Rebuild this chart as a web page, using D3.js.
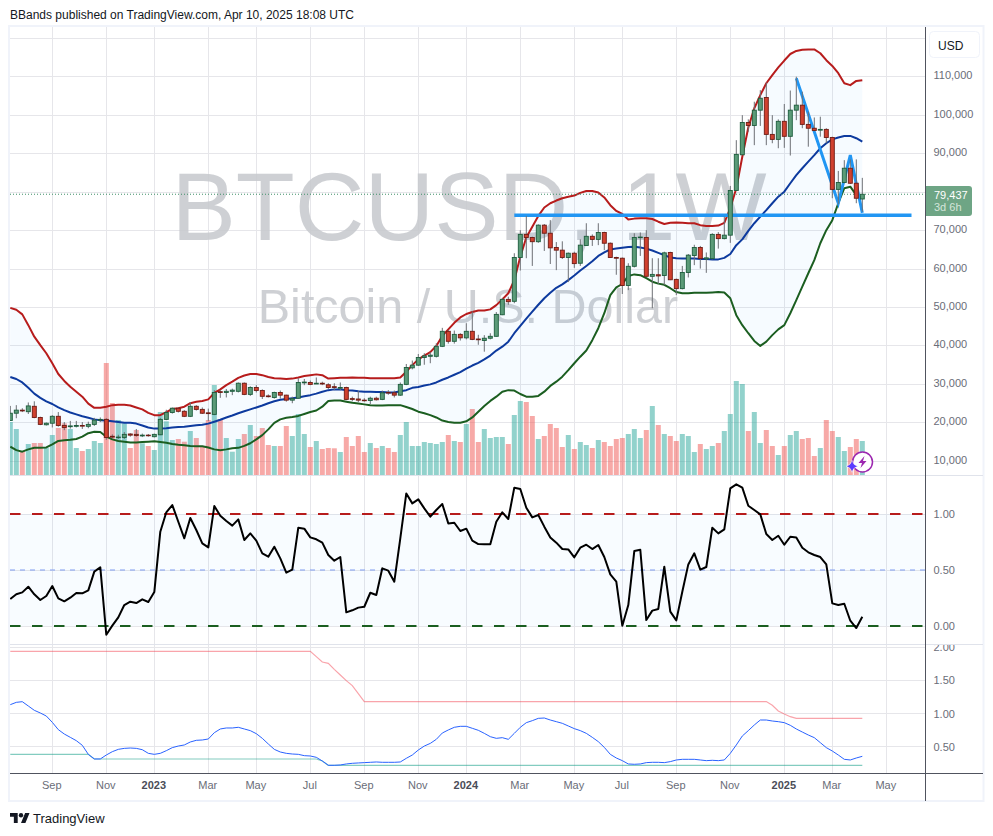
<!DOCTYPE html>
<html><head><meta charset="utf-8">
<script src="https://cdn.jsdelivr.net/npm/d3@7"></script>
<style>html,body{margin:0;padding:0;background:#fff}svg{display:block}text{font-family:"Liberation Sans",Arial,sans-serif}</style>
</head><body><svg id="c" width="993" height="836"></svg>
<script>
// weekly candles, thousands of USD
const open=[20.6,22.5,23.3,22.9,24.3,21.4,19.5,19.9,21.7,19.3,
19.0,19.1,19.3,19.1,19.6,20.7,20.9,16.5,16.2,16.2,
17.1,17.0,16.6,16.8,16.4,16.9,20.9,22.7,23.8,23.0,
21.7,24.3,23.5,22.6,22.2,28.1,27.9,28.2,28.2,30.3,
27.4,29.2,28.4,27.0,26.6,27.9,27.2,25.9,26.4,30.4,
30.5,30.1,30.3,29.9,29.4,29.0,29.2,26.3,26.2,25.9,
25.8,26.4,26.1,27.9,27.8,27.2,30.0,34.3,35.0,37.0,
37.3,37.3,39.9,43.8,41.2,43.0,42.1,43.8,41.8,41.4,
42.0,42.5,48.1,52.1,51.6,63.0,69.0,68.2,67.1,71.4,
69.3,65.6,64.9,63.0,64.1,61.5,66.1,68.5,67.7,69.5,
66.7,63.0,62.8,55.7,60.7,68.2,68.2,58.1,58.5,58.3,
64.3,57.3,54.9,59.1,63.5,65.6,62.6,62.7,69.0,67.9,
68.8,80.4,89.7,98.1,97.3,101.3,104.6,95.0,93.7,98.4,
94.5,101.3,102.6,97.6,96.6,96.1,96.3,94.2,80.7,82.5,
86.2,82.3,78.2];
const close=[22.5,23.3,23.1,24.4,21.4,19.6,19.9,21.7,19.3,18.8,
19.2,19.3,19.2,19.6,20.7,20.9,16.2,16.3,16.3,17.0,
16.8,16.7,16.8,16.7,17.0,20.9,22.7,23.8,23.0,21.7,
24.3,23.5,22.5,22.4,27.9,27.9,28.2,28.5,30.3,27.4,
29.2,28.4,26.9,26.8,27.9,27.2,25.9,26.3,30.5,30.6,
30.0,30.3,30.1,29.2,29.2,29.2,26.1,26.1,25.9,25.8,
26.4,26.0,27.8,27.8,27.2,30.0,34.4,35.0,37.0,37.4,
37.6,39.9,43.8,41.2,43.0,42.1,43.8,41.7,41.6,42.0,
42.5,48.2,52.1,51.5,63.0,69.0,68.2,67.1,71.4,69.3,
65.5,64.9,63.0,64.1,61.4,66.2,68.5,67.7,69.5,66.7,
63.0,62.8,55.7,60.7,68.2,68.3,58.1,58.6,58.2,64.2,
57.2,54.9,59.1,63.6,65.6,62.7,62.9,69.0,67.9,68.8,
80.4,89.8,98.1,97.3,101.3,104.4,95.0,93.7,98.4,94.5,
101.3,102.6,97.6,96.6,96.0,96.3,94.2,80.7,82.5,86.2,
82.3,78.4,79.437];
const high=[24.4,24.6,23.8,25.3,25.6,21.6,20.1,22.0,22.8,20.2,
20.5,20.5,20.2,20.3,21.3,21.4,21.2,17.0,16.9,17.6,
17.3,18.4,17.2,17.1,17.2,21.3,23.4,24.0,24.0,23.3,
25.4,24.6,24.0,23.7,28.5,28.5,28.8,28.9,30.5,30.5,
29.5,29.8,28.7,27.4,28.1,28.4,27.3,26.8,31.6,31.4,
31.0,31.8,30.7,30.3,30.3,30.5,29.4,26.8,28.3,26.4,
26.8,26.8,28.4,28.5,28.4,30.5,35.3,36.2,37.9,38.1,
38.4,40.7,44.7,44.1,44.0,43.3,45.9,49.0,42.9,42.8,
43.3,48.8,52.5,52.8,64.1,70.1,73.8,68.4,71.6,71.7,
72.7,67.0,67.2,64.3,64.5,67.7,71.9,69.0,71.9,69.7,
66.9,63.2,63.0,61.5,69.3,69.5,70.1,62.8,62.8,64.5,
64.5,57.5,60.8,63.9,66.3,66.0,64.3,69.3,69.6,73.6,
81.6,93.5,100.0,98.9,103.5,106.5,108.5,100.0,98.9,102.9,
106.4,110.0,106.1,100.9,99.4,99.6,96.6,94.4,85.5,88.3,
88.5,88.5,83.7];
const low=[20.6,21.2,22.8,22.3,21.2,19.4,19.3,18.8,19.0,18.1,
18.5,18.8,18.4,18.6,19.2,20.2,15.6,15.9,15.8,15.8,
16.4,16.4,16.3,16.4,16.2,16.8,20.7,22.4,22.7,21.5,
21.5,23.2,22.3,20.5,22.0,26.5,26.6,27.2,27.9,27.2,
27.0,27.9,26.2,26.6,26.3,26.3,25.5,25.1,26.3,29.8,
29.8,30.1,29.8,28.8,28.5,28.5,25.9,25.6,25.4,25.5,
24.9,25.8,25.9,27.3,26.6,27.0,29.8,33.9,34.8,35.1,
35.5,37.0,39.7,40.6,40.6,41.4,41.7,41.5,40.3,38.5,
41.7,42.4,48.0,50.7,51.1,59.6,62.8,60.8,66.8,64.7,
61.3,59.7,62.6,56.6,60.3,60.8,66.1,66.0,66.2,64.9,
62.9,58.5,53.5,54.5,60.4,63.4,58.0,49.8,56.1,55.8,
57.1,53.2,54.7,57.8,61.0,60.1,59.0,62.5,65.3,67.7,
66.8,80.3,89.6,95.7,92.2,97.2,92.2,92.7,91.4,91.5,
89.5,98.7,96.6,91.8,95.8,94.4,92.7,78.4,76.8,82.3,
82.1,77.1,74.9];
const volume=[53,46,24,31,32,32,27.3,40,47,51.7,
46,27,24,26,34,32,112,72,55,51.7,
27,45,31.7,29,25,63,53.7,35,36,33.3,
44,37,29,55,90,56,37,23.3,36,41,
50,39,47,30,29,29,49,39,61,41,
28,34,26,27,26.7,23,38,29,39,23,
32,27,29,27,23,40,53,29,29,33,
32,31,33,40,34,33,51,66,33,46,
37,38,38,31,60,74,73,59,36,39,
51,47,28,40,26,33,30,27,35,33,
29,36,37,41,46,37,45,69,50,41,
39,34,41,39,23,31,26,29,32,44,
61,94,91,44,63,32,45,29,20,29,
40,44,36,37,19,27,55,44,38,24,
28,36,34];
const bbUpper=[49.9,49.4,48.2,45.4,42.4,40.2,38.1,35.5,32.7,30.9,
29.4,28.1,26.8,25.0,23.9,23.9,24.2,24.6,24.7,24.7,
24.5,24.0,23.5,22.6,22.0,22.0,22.8,23.6,23.8,24.2,
25.1,25.5,25.7,26.1,27.8,28.7,29.8,30.7,31.7,32.3,
32.7,32.7,32.4,31.9,31.6,31.5,31.4,31.5,31.8,32.2,
32.4,32.6,32.4,31.5,31.6,31.7,31.7,31.8,31.7,31.7,
31.6,31.6,31.6,31.6,31.6,31.8,33.3,35.0,36.5,37.5,
38.4,40.0,42.6,44.3,46.0,47.4,48.3,48.8,49.2,49.2,
49.5,50.6,52.1,53.7,57.1,63.2,68.2,71.0,73.8,76.0,
77.1,77.8,78.4,78.8,79.1,79.8,80.3,80.3,79.9,78.6,
76.6,75.1,74.3,72.9,73.1,73.2,73.2,73.0,72.3,71.7,
72.0,72.1,72.0,71.9,71.9,71.4,71.2,71.2,71.3,72.0,
75.8,81.0,89.2,96.8,101.8,105.2,108.3,110.4,112.4,114.2,
115.9,116.7,117.0,117.1,117.1,116.1,114.3,112.8,110.9,108.3,
107.8,108.9,109.1];
const bbMiddle=[31.9,31.4,30.5,29.1,27.6,26.5,25.6,24.9,24.0,23.3,
22.7,22.2,21.7,21.3,20.9,20.7,20.6,20.4,20.2,20.0,
20.0,19.8,19.3,18.8,18.5,18.5,18.6,18.8,18.9,19.0,
19.2,19.4,19.5,19.8,20.3,20.8,21.4,21.9,22.5,23.0,
23.5,24.0,24.5,25.1,25.6,26.0,26.2,26.4,26.6,26.9,
27.2,27.6,28.1,28.5,28.7,28.7,28.5,28.4,28.2,28.1,
28.1,28.0,28.0,27.9,27.9,28.2,28.5,29.1,29.3,29.7,
30.0,30.5,31.2,31.8,32.5,33.2,34.1,34.9,35.6,36.5,
37.5,38.8,39.8,41.1,43.3,45.2,47.1,48.9,50.7,52.4,
53.8,55.1,56.0,57.1,58.3,59.6,60.8,62.0,63.4,64.3,
65.1,65.3,65.5,65.7,65.8,65.6,65.3,64.8,64.2,63.6,
63.0,62.8,62.7,62.7,62.7,62.6,62.6,62.5,62.5,62.9,
63.9,66.2,67.7,69.9,71.9,73.6,75.3,77.1,78.8,80.1,
82.3,84.4,86.2,87.9,89.6,91.4,92.7,93.7,94.2,94.6,
94.6,94.0,93.1];
const bbLower=[13.8,12.9,12.5,13.1,13.5,13.5,13.6,14.4,15.3,15.5,
15.6,15.8,16.4,17.3,17.7,17.6,16.4,15.7,15.3,15.1,
14.9,14.9,15.0,15.1,15.2,15.0,14.8,14.5,14.3,14.2,
14.0,13.9,13.9,13.6,13.1,12.9,13.1,13.4,13.5,14.0,
14.7,15.7,16.8,18.3,20.0,20.9,21.3,21.5,21.8,22.3,
22.8,23.2,24.2,25.7,25.8,25.8,25.5,25.2,25.0,24.8,
24.6,24.5,24.5,24.6,24.6,24.6,24.1,23.6,22.9,22.5,
22.0,21.4,20.6,20.2,20.0,20.0,20.4,21.4,22.9,24.4,
25.7,26.8,28.1,28.5,28.4,27.5,26.8,26.8,27.0,28.1,
29.6,30.7,32.0,33.7,35.5,37.2,38.8,41.5,44.6,48.5,
53.2,55.2,56.1,58.2,58.6,58.4,57.6,56.7,56.2,55.9,
55.0,54.0,53.7,53.7,53.8,53.8,53.8,53.9,54.0,53.9,
52.4,48.0,45.4,43.3,41.3,40.0,41.1,42.8,44.3,45.4,
48.5,51.9,55.4,58.9,62.3,66.7,70.1,72.7,77.1,81.0,
81.4,79.2,78.4];
const percentB=[.241,.283,.30,.351,.283,.232,.268,.357,.247,.22,
.253,.295,.292,.318,.485,.524,-.078,.003,.077,.187,
.217,.205,.238,.214,.303,.842,1.015,1.08,.931,.783,
.964,.857,.738,.702,1.071,.985,.937,.896,.952,.768,
.827,.762,.649,.619,.708,.604,.476,.503,.878,.869,
.791,.774,.744,.634,.583,.616,.122,.14,.164,.172,
.297,.277,.515,.494,.396,.783,1.184,1.095,1.131,1.05,
.976,1.036,1.089,.916,.922,.848,.869,.762,.732,.729,
.729,.931,1.015,.955,1.235,1.223,1.056,.97,.991,.887,
.791,.744,.687,.684,.613,.699,.726,.687,.723,.616,
.461,.396,.003,.187,.669,.681,.053,.137,.152,.53,
.128,.05,.306,.55,.649,.503,.527,.878,.827,.863,
1.229,1.265,1.235,1.074,1.036,.997,.821,.768,.806,.726,
.797,.791,.699,.658,.634,.616,.55,.202,.187,.199,
.047,-.018,.083];
const bbw=[1.133,1.168,1.178,1.113,1.048,1.008,.962,.867,.757,.691,
.641,.591,.521,.385,.315,.315,.375,.425,.46,.475,
.48,.475,.455,.40,.385,.40,.44,.486,.51,.526,
.571,.596,.601,.616,.711,.767,.782,.782,.792,.767,
.742,.696,.626,.541,.46,.42,.40,.39,.385,.365,
.36,.34,.285,.22,.22,.225,.24,.25,.255,.26,
.265,.27,.265,.265,.265,.27,.325,.375,.45,.51,
.55,.611,.706,.752,.792,.807,.807,.777,.747,.701,
.651,.626,.636,.611,.701,.792,.862,.892,.927,.932,
.902,.877,.852,.812,.772,.742,.701,.641,.576,.49,
.385,.33,.29,.24,.235,.24,.26,.265,.265,.26,
.275,.30,.31,.31,.31,.30,.29,.295,.29,.30,
.40,.526,.661,.742,.827,.902,.902,.887,.877,.862,
.822,.767,.721,.676,.636,.561,.486,.435,.375,.31,
.30,.33,.355];
const bbwHighWeeks=[0,50,51,52,53,54,55,56,57,58,59,126,127,128,129,130,131,142];
const bbwHigh=[1.937,1.937,1.856,1.776,1.756,1.665,1.58,1.495,1.42,1.30,1.18,1.18,1.123,1.037,.993,.952,.927,.927];
const bbwLowWeeks=[0,13,14,50,51,52,53,142];
const bbwLow=[.385,.385,.315,.315,.315,.285,.22,.22];
const levelLineWeeks=[84,150.2], levelLine=[73.96,73.96];
const zigzagWeeks=[131,138,140,142], zigzag=[109.6,77.1,89.6,74.6];
const priceTicks=[10,20,30,40,50,60,70,80,90,100,110,120];
const priceLabels=[10,20,30,40,50,60,70,90,100,110];
const pctTicks=[0,.5,1];
const bbwTicks=[.5,1,1.5,2];
const timeWeeks=[7,16,24,33,41,50,59,68,76,85,94,102,111,120,129,137,146];
const timeLabels=["Sep","Nov","2023","Mar","May","Jul","Sep","Nov","2024","Mar","May","Jul","Sep","Nov","2025","Mar","May"];
const weeks=d3.range(close.length);

const svg=d3.select("#c");
const paneL=10,paneR=925.5,axisR=983,top1=27,bot1=475,bot2=645,bot3=773.5,frameB=800.5;
const x=d3.scaleLinear().domain([0,142]).range([10.3,862.3]);
const y=d3.scaleLinear().domain([10,110]).range([461.3,76.7]);
const yVol=d3.scaleLinear().domain([0,112]).range([475,363]);
const yPct=d3.scaleLinear().domain([0,1]).range([626,514]);
const yW=d3.scaleLinear().domain([.5,2]).range([746.7,647.1]);
const defs=svg.append("defs");
[["c1",top1,bot1],["c2",bot1,bot2],["c3",bot2,bot3]].forEach(([id,a,b])=>defs.append("clipPath").attr("id",id).append("rect").attr("x",paneL).attr("y",a).attr("width",paneR-paneL).attr("height",b-a));
defs.append("clipPath").attr("id","cl").append("rect").attr("x",paneR).attr("y",bot2).attr("width",60).attr("height",bot3-bot2);

// frame
svg.append("rect").attr("x",9).attr("y",26).attr("width",974.5).attr("height",775).attr("fill","#fff").attr("stroke","#f0f3fa").attr("stroke-width",2);

const gridCol="#e6e6ea";
const grid=svg.append("g").attr("stroke",gridCol).attr("shape-rendering","crispEdges");
grid.selectAll("line.v").data(timeWeeks).join("line").attr("x1",d=>x(d)).attr("x2",d=>x(d)).attr("y1",top1).attr("y2",bot3);
const hl=(vals,sc)=>grid.append("g").selectAll("line").data(vals).join("line").attr("x1",paneL).attr("x2",paneR).attr("y1",d=>sc(d)).attr("y2",d=>sc(d));
hl(priceTicks,y);hl(pctTicks,yPct);hl(bbwTicks,yW);
grid.append("g").attr("stroke","#e0e3eb").selectAll("line").data([bot1,bot2-1]).join("line").attr("x1",paneL).attr("x2",axisR).attr("y1",d=>d+.5).attr("y2",d=>d+.5);

// watermark
const wm=svg.append("g").attr("fill","#c6c8cd").attr("text-anchor","middle").attr("fill-opacity",.85);
wm.append("text").attr("x",469).attr("y",240).attr("font-size",96.5).text("BTCUSD, 1W");
wm.append("text").attr("x",468).attr("y",323).attr("font-size",48.5).text("Bitcoin / U.S. Dollar");

// pane 1
const p1=svg.append("g").attr("clip-path","url(#c1)");
p1.append("g").selectAll("rect").data(weeks).join("rect")
 .attr("x",i=>x(i)-2.5).attr("width",5).attr("y",i=>yVol(volume[i])).attr("height",i=>yVol(0)-yVol(volume[i]))
 .attr("fill",i=>close[i]>=open[i]?"#26a69a":"#ef5350").attr("fill-opacity",.5);
p1.append("path").attr("d",d3.area().x(i=>x(i)).y0(i=>y(bbLower[i])).y1(i=>y(bbUpper[i]))(weeks)).attr("fill","#2196f3").attr("fill-opacity",.04);
const ln=(arr)=>d3.line().x(i=>x(i)).y(i=>y(arr[i]))(weeks);
[[bbUpper,"#b71c1c"],[bbMiddle,"#0d3a9e"],[bbLower,"#1b5e20"]].forEach(([a,c])=>p1.append("path").attr("d",ln(a)).attr("fill","none").attr("stroke",c).attr("stroke-width",2).attr("stroke-linejoin","round"));
// current price line
p1.append("line").attr("x1",paneL).attr("x2",paneR).attr("y1",y(close[142])).attr("y2",y(close[142])).attr("stroke","#3d8f68").attr("stroke-width",1).attr("stroke-dasharray","1 2");
// drawings
const dl=d3.line().x(d=>x(d[0])).y(d=>y(d[1]));
p1.append("path").attr("d",dl(d3.zip(levelLineWeeks,levelLine))).attr("fill","none").attr("stroke","#2196f3").attr("stroke-width",3.5);
p1.append("path").attr("d",dl(d3.zip(zigzagWeeks,zigzag))).attr("fill","none").attr("stroke","#2196f3").attr("stroke-width",3).attr("stroke-linejoin","miter");
// candles
const cg=p1.append("g").selectAll("g").data(weeks).join("g");
cg.append("line").attr("x1",i=>x(i)).attr("x2",i=>x(i)).attr("y1",i=>y(high[i])).attr("y2",i=>y(low[i])).attr("stroke","#6d7075").attr("stroke-width",1);
cg.append("rect").attr("x",i=>x(i)-2).attr("width",4)
 .attr("y",i=>y(Math.max(open[i],close[i]))).attr("height",i=>Math.max(.6,Math.abs(y(open[i])-y(close[i]))))
 .attr("fill",i=>close[i]>=open[i]?"#5b9b78":"#d0412f").attr("stroke",i=>close[i]>=open[i]?"#1d5c3c":"#6e1a12").attr("stroke-width",.9);

// pane 2
const p2=svg.append("g").attr("clip-path","url(#c2)");
p2.append("rect").attr("x",paneL).attr("width",paneR-paneL).attr("y",yPct(1)).attr("height",yPct(0)-yPct(1)).attr("fill","#2196f3").attr("fill-opacity",.03);
[[1,"#b71c1c",2,"10.5 11.5"],[0,"#1b5e20",2,"10.5 11.5"],[.5,"#7f9cf0",1,"5 5"]].forEach(([v,c,w,da])=>
 p2.append("line").attr("x1",paneL).attr("x2",paneR).attr("y1",yPct(v)).attr("y2",yPct(v)).attr("stroke",c).attr("stroke-width",w).attr("stroke-dasharray",da));
p2.append("path").attr("d",d3.line().x(i=>x(i)).y(i=>yPct(percentB[i]))(weeks)).attr("fill","none").attr("stroke","#000").attr("stroke-width",2).attr("stroke-linejoin","round");

// pane 3
const p3=svg.append("g").attr("clip-path","url(#c3)");
const wl=d3.line().x(d=>x(d[0])).y(d=>yW(d[1]));
p3.append("path").attr("d",wl(d3.zip(bbwHighWeeks,bbwHigh))).attr("fill","none").attr("stroke","#f23645").attr("stroke-opacity",.45).attr("stroke-width",1.2);
p3.append("path").attr("d",wl(d3.zip(bbwLowWeeks,bbwLow))).attr("fill","none").attr("stroke","#089981").attr("stroke-opacity",.5).attr("stroke-width",1.2);
p3.append("path").attr("d",d3.line().x(i=>x(i)).y(i=>yW(bbw[i]))(weeks)).attr("fill","none").attr("stroke","#2962ff").attr("stroke-width",1);

// axes lines
svg.append("line").attr("x1",paneL).attr("x2",axisR).attr("y1",bot3).attr("y2",bot3).attr("stroke","#50535e").attr("shape-rendering","crispEdges");
svg.append("line").attr("x1",paneR).attr("x2",paneR).attr("y1",top1).attr("y2",frameB).attr("stroke","#50535e").attr("shape-rendering","crispEdges");

// axes
function style(g,size){g.select(".domain").remove();g.selectAll("line").remove();g.selectAll("text").attr("fill","#6a6d78").attr("font-size",size).attr("font-family",'"Liberation Sans",Arial,sans-serif');}
const fmtP=d=>d3.format(",")(d*1000);
svg.append("g").attr("transform",`translate(${paneR},-1.5)`).call(d3.axisRight(y).tickValues(priceLabels).tickFormat(fmtP).tickSize(0).tickPadding(8)).call(g=>style(g,11));
svg.append("g").attr("transform",`translate(${paneR},0)`).call(d3.axisRight(yPct).tickValues(pctTicks).tickFormat(d3.format(".2f")).tickSize(0).tickPadding(8)).call(g=>style(g,11));
svg.append("g").attr("clip-path","url(#cl)").append("g").attr("transform",`translate(${paneR},0)`).call(d3.axisRight(yW).tickValues(bbwTicks).tickFormat(d3.format(".2f")).tickSize(0).tickPadding(8)).call(g=>style(g,11));
const xa=svg.append("g").attr("transform",`translate(-1,${bot3})`).call(d3.axisBottom(x).tickValues(timeWeeks).tickFormat((d,i)=>timeLabels[i]).tickSize(0).tickPadding(8));
style(xa,11);
xa.selectAll("text").attr("fill",(d,i)=>/^20/.test(timeLabels[i])?"#4a4d57":"#6a6d78").attr("font-weight",(d,i)=>/^20/.test(timeLabels[i])?"bold":"normal");

// USD button
svg.append("rect").attr("x",929.5).attr("y",31.5).attr("width",50).attr("height",26).attr("rx",4).attr("fill","#fff").attr("stroke","#f0f3fa");
svg.append("text").attr("x",938).attr("y",49.5).attr("font-size",12).attr("fill","#131722").text("USD");

// price label
svg.append("path").attr("d","M926,186H969a3,3 0 0 1 3,3V213a3,3 0 0 1 -3,3H926Z").attr("fill","#6ea585");
svg.append("text").attr("x",934).attr("y",198.5).attr("font-size",11).attr("fill","#fff").text(d3.format(",")(Math.round(close[142]*1000)));
svg.append("text").attr("x",934).attr("y",211).attr("font-size",11).attr("fill","#d5e6da").text("3d 6h");

// flash icon
const ic=svg.append("g").attr("transform","translate(862.5,462)");
ic.append("circle").attr("r",10).attr("fill","#fff").attr("stroke","#9c27b0").attr("stroke-width",1.5);
ic.append("path").attr("d","M2,-6L-4,1H-0.5L-2,6L4,-1H0.5Z").attr("fill","#9c27b0");
svg.append("path").attr("transform","translate(852,466.3)").attr("d","M0,-6Q1,-1 6,0Q1,1 0,6Q-1,1 -6,0Q-1,-1 0,-6Z").attr("fill","#5b3bff").attr("stroke","#fff").attr("stroke-width",.5);

// header & footer
svg.append("text").attr("x",10).attr("y",19).attr("font-size",12).attr("fill","#131722").text("BBands published on TradingView.com, Apr 10, 2025 18:08 UTC");
const lg=svg.append("g").attr("transform","translate(10,810.8) scale(.55)").attr("fill","#131722");
lg.append("path").attr("d","M14 22H7V11H0V4h14v18zM28 22h-8l7.5-18h8L28 22z");
lg.append("circle").attr("cx",20).attr("cy",8).attr("r",4);
svg.append("text").attr("x",33).attr("y",823).attr("font-size",13).attr("fill","#131722").text("TradingView");
</script></body></html>
